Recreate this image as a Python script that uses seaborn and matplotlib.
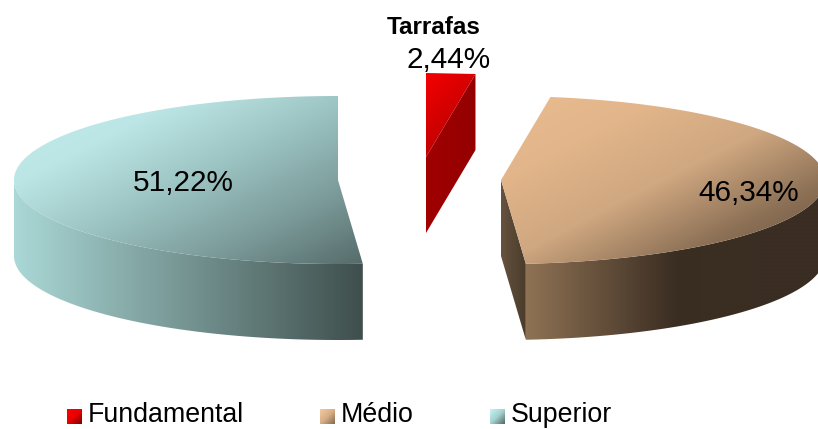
import matplotlib
matplotlib.use('Agg')
import matplotlib.pyplot as plt
from matplotlib.patches import Polygon
import numpy as np
import seaborn as sns

categories = ['Fundamental', 'Médio', 'Superior']
values = [2.44, 46.34, 51.22]
title = 'Tarrafas'

W, H = 818, 429
rx, ry, depth = 324, 84, 76
centers = [(426, 157), (501, 180), (338, 180)]
label_pos = [(449, 60), (749, 193), (183, 183)]
legend_x = [67, 320, 490]

top_colors = [['#f40000', '#a80000'],
              ['#eabc90', '#e2b58a', '#cfa780', '#8e7257', '#5e4a38'],
              ['#c4eeee', '#bce6e6', '#9cc4c2', '#7c9c9b', '#566c6b']]
top_angle = [45, 63, 63]
wall_colors = [['#9a0000', '#9a0000'], ['#8f7254', '#3a2d22', '#3a2d22'], ['#aad8d6', '#3f4f4d']]
cut_colors = [['#a00000', '#940000'], ['#66533f', '#4a3b2b'], ['#3f4f4d', '#3f4f4d']]
legend_colors = [['#ff0000', '#e80000', '#7a0000'], ['#f2caa2', '#d8ae86', '#806a50'], ['#c8f4f4', '#a4d0ce', '#4e6665']]

sns.set_theme(style='white')
plt.rcParams['font.family'] = ['Liberation Sans', 'DejaVu Sans']

fig = plt.figure(figsize=(W / 100, H / 100), dpi=100)
ax = fig.add_axes([0, 0, 1, 1])
ax.set_xlim(0, W)
ax.set_ylim(H, 0)
ax.axis('off')


def arc(center, a0, a1, drop=0):
    # clock angles, 0 at the top of the ellipse, going clockwise
    n = max(2, int((a1 - a0) * 2))
    if a1 - a0 < 10:
        n = 2
    t = np.radians(np.linspace(a0, a1, n))
    return np.column_stack([center[0] + rx * np.sin(t), center[1] - ry * np.cos(t) + drop])


def gradient_fill(points, colors, angle, zorder=2):
    # fills a polygon with a linear gradient, angle in degrees (0 = to the right, 90 = down)
    points = np.asarray(points)
    x0, y0 = points.min(axis=0)
    x1, y1 = points.max(axis=0)
    xx, yy = np.meshgrid(np.linspace(0, 1, 300), np.linspace(0, 1, 300))
    a = np.radians(angle)
    g = xx * (x1 - x0) * np.cos(a) + yy * (y1 - y0) * np.sin(a)
    g = (g - g.min()) / (g.max() - g.min())
    cmap = sns.blend_palette(colors, as_cmap=True)
    im = ax.imshow(g, cmap=cmap, extent=(x0, x1, y1, y0), aspect='auto', zorder=zorder,
                   interpolation='bilinear')
    patch = Polygon(points, closed=True, transform=ax.transData, fc='none', ec='none')
    ax.add_patch(patch)
    im.set_clip_path(patch)


start = 0
for i, val in enumerate(values):
    end = start + val * 3.6
    c = centers[i]

    # wall of the slice, only the front half of the rim shows
    a0, a1 = max(start, 90), min(end, 270)
    if a1 > a0:
        wall = np.vstack([arc(c, a0, a1), arc(c, a0, a1, depth)[::-1]])
        gradient_fill(wall, wall_colors[i], 0)

    # cut face on the side that looks at the viewer
    if i < 2:
        edge = arc(c, start, end)[-1]
        gradient_fill([c, edge, (edge[0], edge[1] + depth), (c[0], c[1] + depth)], cut_colors[i], 0, 3)

    top = np.vstack([[c], arc(c, start, end)])
    gradient_fill(top, top_colors[i], top_angle[i], 4)

    ax.text(label_pos[i][0], label_pos[i][1], f'{val:.2f}%'.replace('.', ','), ha='center', va='center',
            fontsize=21.4, color='black', zorder=6)
    start = end

ax.text(434, 27, title, ha='center', va='center', fontsize=17.5, fontweight='bold', color='black', zorder=6)

# legend
for i, name in enumerate(categories):
    x = legend_x[i]
    gradient_fill([(x, 409), (x + 15, 409), (x + 15, 424), (x, 424)], legend_colors[i], 45, 6)
    ax.text(x + 21, 422.5, name, ha='left', va='baseline', fontsize=19.3, color='black', zorder=6)

ax.set_xlim(0, W)
ax.set_ylim(H, 0)

fig.savefig('out.png', dpi=100)
